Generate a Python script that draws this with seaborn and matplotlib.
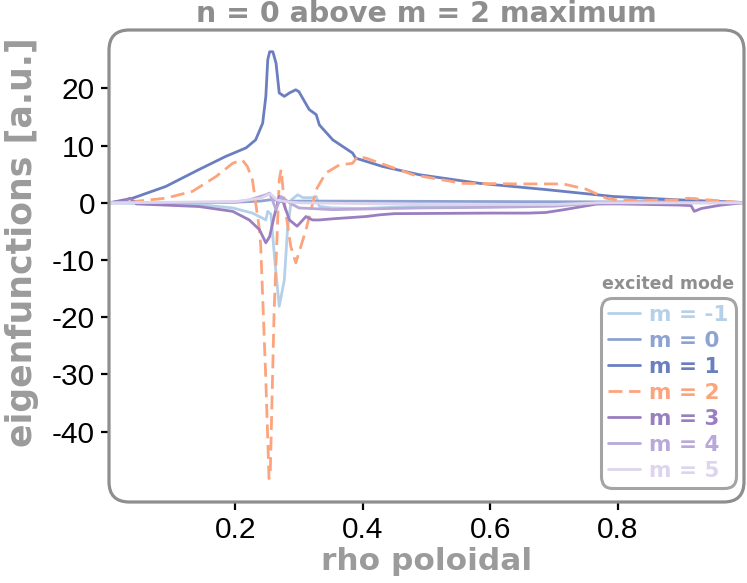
import matplotlib
matplotlib.use("Agg")
import matplotlib.pyplot as plt
import seaborn as sns
from matplotlib.patches import FancyBboxPatch

# eigenfunction traces (rho poloidal, amplitude in a.u.)
rho_m1n = [0.003, 0.143, 0.196, 0.227, 0.243, 0.248, 0.251, 0.256, 0.262, 0.269, 0.277, 0.282,
           0.288, 0.298, 0.306, 0.322, 0.327, 0.332, 0.353, 0.40, 0.489, 0.60, 0.77, 0.85, 0.915,
           0.920, 0.925, 0.997]
eig_m1n = [0.0, -0.3, -0.9, -1.8, -2.7, -3.0, -1.5, -2.0, -10.0, -18.1, -13.5, -4.7,
           0.5, 1.4, 0.9, 0.9, 1.1, -0.65, -0.9, -1.0, -0.6, -0.4, -0.2, 0.0, 0.1,
           0.8, 0.1, 0.0]

rho_m0 = [0.003, 0.20, 0.24, 0.26, 0.27, 0.30, 0.50, 0.80, 0.92, 0.997]
eig_m0 = [0.0, 0.1, 0.3, 0.6, 0.2, 0.3, 0.25, 0.15, 0.3, 0.0]

rho_m1 = [0.003, 0.039, 0.091, 0.143, 0.185, 0.217, 0.232, 0.243, 0.248, 0.251, 0.254, 0.259,
          0.264, 0.269, 0.277, 0.285, 0.295, 0.300, 0.316, 0.327, 0.332, 0.353, 0.384, 0.389,
          0.431, 0.489, 0.583, 0.688, 0.793, 0.897, 0.997]
eig_m1 = [0.0, 0.8, 2.85, 5.8, 8.1, 9.6, 11.0, 13.9, 18.6, 25.0, 26.4, 26.4,
          24.4, 19.2, 18.6, 19.2, 19.75, 19.4, 16.3, 15.4, 13.6, 11.0, 8.7, 7.8,
          6.35, 4.9, 3.4, 2.3, 1.1, 0.5, 0.05]

rho_m2 = [0.003, 0.039, 0.091, 0.133, 0.170, 0.196, 0.211, 0.219, 0.227, 0.238, 0.240, 0.248,
          0.253, 0.255, 0.261, 0.269, 0.272, 0.277, 0.287, 0.295, 0.311, 0.327, 0.342, 0.363,
          0.384, 0.392, 0.405, 0.442, 0.479, 0.556, 0.636, 0.714, 0.750, 0.782, 0.803, 0.897,
          0.910, 0.997]
eig_m2 = [0.0, 0.2, 0.8, 2.0, 4.6, 6.9, 7.5, 6.35, 4.0, -4.7, -7.6, -31.0,
          -48.2, -47.0, -19.0, 4.0, 5.8, 0.0, -7.6, -10.5, -4.7, 2.3, 5.2, 6.6,
          6.9, 8.1, 7.8, 6.35, 4.9, 3.4, 3.3, 3.3, 2.4, 0.8, 0.4, 0.5,
          0.8, 0.0]

rho_m3 = [0.003, 0.025, 0.035, 0.045, 0.143, 0.196, 0.222, 0.238, 0.248, 0.254, 0.261, 0.269,
          0.274, 0.285, 0.297, 0.311, 0.321, 0.332, 0.353, 0.405, 0.427, 0.45, 0.60, 0.66,
          0.687, 0.716, 0.768, 0.80, 0.897, 0.915, 0.920, 0.931, 0.962, 0.997]
eig_m3 = [0.0, 0.3, 0.8, -0.2, -0.65, -1.5, -3.0, -4.7, -7.0, -5.9, -2.4, 1.1,
          0.5, -3.0, -4.1, -2.4, -3.0, -3.0, -2.8, -2.4, -2.1, -1.9, -1.8, -1.8,
          -1.7, -1.2, -0.2, -0.2, -0.4, -0.5, -1.5, -1.0, -0.4, 0.0]

rho_m4 = [0.003, 0.20, 0.222, 0.248, 0.254, 0.264, 0.272, 0.285, 0.300, 0.353, 0.489, 0.60,
          0.70, 0.77, 0.997]
eig_m4 = [0.0, 0.1, 0.5, 1.4, 1.7, -1.2, 1.1, 0.0, -0.9, -1.2, -0.9, -0.8,
          -0.6, 0.0, 0.0]

rho_m5 = [0.003, 0.20, 0.24, 0.255, 0.265, 0.28, 0.30, 0.50, 0.70, 0.77, 0.997]
eig_m5 = [0.0, 0.2, 0.8, 1.6, 0.5, 0.2, 0.0, -0.3, -0.3, 0.0, 0.0]

labels = ["m = -1", "m = 0", "m = 1", "m = 2", "m = 3", "m = 4", "m = 5"]
colors = ["#b5d1e9", "#8fa3d2", "#6b7fc0", "#fca47e", "#9a7fc0", "#b9a9d9", "#ddd5ee"]
series = [(rho_m1n, eig_m1n), (rho_m0, eig_m0), (rho_m1, eig_m1), (rho_m2, eig_m2),
          (rho_m3, eig_m3), (rho_m4, eig_m4), (rho_m5, eig_m5)]

sns.set_style("ticks")
plt.rcParams['font.family'] = ['Liberation Sans', 'DejaVu Sans']
plt.rcParams['axes.unicode_minus'] = False

gray = '#8e8e8e'
fig = plt.figure(figsize=(7.47, 5.83), dpi=100)
ax = fig.add_axes([109/747, 81/583, 635/747, 472/583])

for (xs, ys), lab, col in zip(series, labels, colors):
    sns.lineplot(x=xs, y=ys, ax=ax, color=col, lw=2.0, label=lab, sort=False,
                 estimator=None)
    if lab == "m = 2":
        ax.lines[-1].set_dashes((5, 2.4))

ax.set_xlim(0.002, 0.998)
ax.set_ylim(-52.3, 30.2)
ax.set_xticks([0.2, 0.4, 0.6, 0.8])
ax.set_yticks([20, 10, 0, -10, -20, -30, -40])
for s in ax.spines.values():
    s.set_visible(False)
ax.tick_params(direction='out', length=6, width=1.6, color='black', labelsize=21.5,
               pad=4, labelcolor='black')

# rounded frame around the plot area
frame = FancyBboxPatch((0, 0), 1, 1, boxstyle="round,pad=0,rounding_size=0.032",
                       mutation_aspect=635/472, transform=ax.transAxes, fill=False,
                       ec=gray, lw=2.3, clip_on=False, zorder=10)
ax.add_patch(frame)

bold = dict(family='DejaVu Sans', weight='bold', color='#9b9b9b')
ax.set_xlabel("rho poloidal", fontsize=22.5, labelpad=2, **bold)
ax.set_ylabel("eigenfunctions [a.u.]", fontsize=25, labelpad=4, **bold)
ax.yaxis.set_label_coords(-0.11, 0.55)
ax.set_title("n = 0 above m = 2 maximum", fontsize=20.5, pad=6, family='DejaVu Sans',
             weight='bold', color=gray)

leg = ax.legend(loc='lower right', bbox_to_anchor=(0.987, 0.03), borderaxespad=0,
                prop={'family': 'DejaVu Sans', 'weight': 'bold', 'size': 15.5},
                handlelength=1.5, handletextpad=0.45, labelspacing=0.28, borderpad=0.32,
                frameon=True, fancybox=True)
leg.get_frame().set_edgecolor(gray)
leg.get_frame().set_linewidth(2.2)
leg.get_frame().set_boxstyle("round,pad=0,rounding_size=0.55")
for txt, col in zip(leg.get_texts(), colors):
    txt.set_color(col)
ax.text(0.880, 0.462, "excited mode", transform=ax.transAxes, ha='center', va='center',
        fontsize=12.5, family='DejaVu Sans', weight='bold', color=gray)

fig.savefig("out.png", dpi=100)
